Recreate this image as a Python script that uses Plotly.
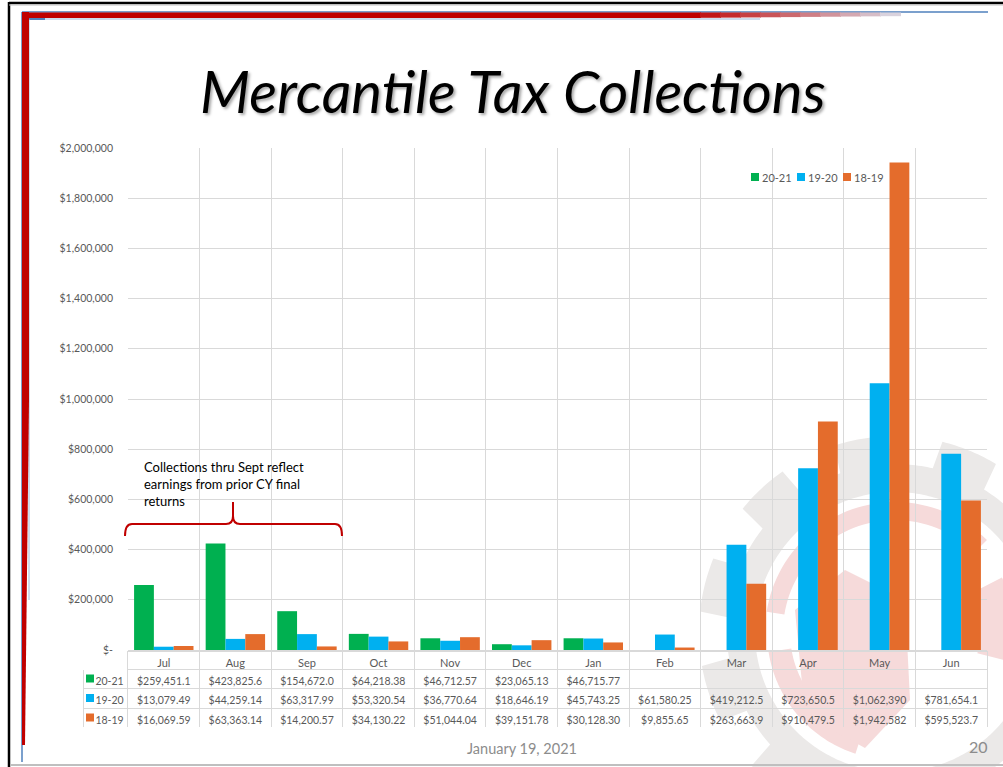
import numpy as np
import plotly.graph_objects as go

# Monthly collections per fiscal year
months = ['Jul', 'Aug', 'Sep', 'Oct', 'Nov', 'Dec', 'Jan', 'Feb', 'Mar', 'Apr', 'May', 'Jun']
fy_2021 = [259451.1, 423825.6, 154672.0, 64218.38, 46712.57, 23065.13, 46715.77,
           None, None, None, None, None]
fy_1920 = [13079.49, 44259.14, 63317.99, 53320.54, 36770.64, 18646.19, 45743.25,
           61580.25, 419212.5, 723650.5, 1062390, 781654.1]
fy_1819 = [16069.59, 63363.14, 14200.57, 34130.22, 51044.04, 39151.78, 30128.30,
           9855.65, 263663.9, 910479.5, 1942582, 595523.7]
series_names = ['20-21', '19-20', '18-19']
series_colors = ['#00B050', '#00B0F0', '#E46C2C']
y_ticks = [0, 200000, 400000, 600000, 800000, 1000000, 1200000, 1400000, 1600000, 1800000, 2000000]

W, H = 1003, 767
GRID = '#d9d9d9'
GREY_TXT = '#595959'
FONT = 'Lato'


def px(x):
    return x / W


def py(y):
    return 1 - y / H


def money(v):
    # Excel squeezes the cells to ~10 characters
    if v is None:
        return ''
    return f'${v:,.2f}'[:10].rstrip('.')


def ppath(pts, close=True):
    s = 'M ' + ' L '.join(f'{px(x):.5f},{py(y):.5f}' for x, y in pts)
    return s + (' Z' if close else '')


fig = go.Figure()

for name, vals, col in zip(series_names, [fy_2021, fy_1920, fy_1819], series_colors):
    fig.add_trace(go.Bar(x=months, y=vals, name=name, showlegend=False,
                         marker=dict(color=col, line=dict(width=0))))

# Data table under the chart
month_cols = [[money(s[i]) for s in (fy_2021, fy_1920, fy_1819)] for i in range(len(months))]
label_col = ['\u00a0\u00a0\u00a0' + n for n in series_names]
fig.add_trace(go.Table(
    domain=dict(x=[px(83), px(987)], y=[py(727), py(651)]),
    columnwidth=[45] + [71.6] * 12,
    header=dict(values=[''] + months, height=18, align='center',
                line=dict(color=['white'] + [GRID] * 12, width=1),
                fill=dict(color='rgba(0,0,0,0)'),
                font=dict(family=FONT, size=11, color=GREY_TXT)),
    cells=dict(values=[label_col] + month_cols, height=19.5, align='center',
               line=dict(color=GRID, width=1), fill=dict(color='rgba(0,0,0,0)'),
               font=dict(family=FONT, size=10.5, color=GREY_TXT)),
))

shapes = []

# Faint gear watermark in the lower right
cx, cy = 895, 632
PINK = '#f6dada'
ang = np.linspace(0, 2 * np.pi, 361)
r_out = np.where(np.cos(ang * 11 + 0.4) > -0.1, 196, 168)
gear = ppath([(cx + r * np.cos(a), cy + r * np.sin(a)) for r, a in zip(r_out, ang)])
hole = ppath([(cx + 140 * np.cos(a), cy + 140 * np.sin(a)) for a in ang[::-1]])
shapes.append(dict(type='path', xref='paper', yref='paper', path=gear + ' ' + hole,
                   fillcolor='#ebe9e8', line=dict(width=0), layer='below'))
for a0, a1, r0, r1 in [(1.05, 1.75, 112, 130), (0.6, 0.95, 105, 128), (-0.15, 0.08, 85, 120)]:
    arc = np.linspace(np.pi * a0, np.pi * a1, 50)
    ring = [(cx + r1 * np.cos(a), cy + r1 * np.sin(a)) for a in arc]
    ring += [(cx + r0 * np.cos(a), cy + r0 * np.sin(a)) for a in arc[::-1]]
    shapes.append(dict(type='path', xref='paper', yref='paper', path=ppath(ring),
                       fillcolor=PINK, line=dict(width=0), layer='below'))
shapes.append(dict(type='path', xref='paper', yref='paper',
                   path=ppath([(795, 610), (845, 570), (905, 600), (910, 700), (865, 748), (805, 715)]),
                   fillcolor=PINK, line=dict(width=0), layer='below'))

# Slide decorations: frame, red/blue accent bars
deco = [
    dict(type='line', x0=9, x1=9, y0=2, y1=767, line=dict(color='black', width=2.5)),
    dict(type='line', x0=9, x1=1003, y0=3, y1=3, line=dict(color='black', width=2.5)),
    dict(type='line', x0=9, x1=1003, y0=5, y1=5, line=dict(color='#bfbfbf', width=1)),
    dict(type='line', x0=11, x1=1003, y0=765, y1=765, line=dict(color='#bfbfbf', width=2)),
    dict(type='line', x0=22, x1=988, y0=12, y1=12, line=dict(color='#4F81BD', width=1.5)),
    dict(type='line', x0=30, x1=760, y0=19, y1=19, line=dict(color='#9DB9DC', width=1)),
    dict(type='line', x0=28, x1=45, y0=19, y1=19, line=dict(color='#4F81BD', width=2)),
    dict(type='line', x0=22, x1=22, y0=12, y1=762, line=dict(color='#4F81BD', width=1.5)),
    dict(type='line', x0=29, x1=29, y0=19, y1=600, line=dict(color='#9DB9DC', width=1)),
]
# red top bar fading out towards the right (blended colours, slightly overlapping)
fade_x = np.arange(700, 901, 20)
deco.append(dict(type='rect', x0=22, x1=701, y0=18, y1=12.5, fillcolor='#C00000', line=dict(width=0)))
for i, (x0, x1) in enumerate(zip(fade_x[:-1], fade_x[1:])):
    t = (i + 1) / len(fade_x)
    r, g, b = [int(c0 + (c1 - c0) * t) for c0, c1 in zip((192, 0, 0), (220, 232, 244))]
    deco.append(dict(type='rect', x0=x0, x1=x1 + 1, y0=18 - 2 * t, y1=12.5,
                     fillcolor=f'rgb({r},{g},{b})', line=dict(width=0)))
for d in deco:
    d.update(xref='paper', yref='paper', x0=px(d['x0']), x1=px(d['x1']), y0=py(d['y0']), y1=py(d['y1']))
    shapes.append(d)
shapes.append(dict(type='path', xref='paper', yref='paper',
                   path=ppath([(22, 12), (29, 12), (29, 400), (25, 745), (22, 745)]),
                   fillcolor='#C00000', line=dict(width=0)))

# Curly bracket over Jul-Sep
brace = (f'M {px(125)},{py(536)} Q {px(125)},{py(524)} {px(132)},{py(524)} '
         f'L {px(226)},{py(524)} Q {px(233)},{py(524)} {px(233)},{py(516)} L {px(233)},{py(502)} '
         f'M {px(233)},{py(516)} Q {px(233)},{py(524)} {px(240)},{py(524)} '
         f'L {px(335)},{py(524)} Q {px(342)},{py(524)} {px(342)},{py(536)}')
shapes.append(dict(type='path', xref='paper', yref='paper', path=brace,
                   line=dict(color='#C00000', width=2)))

annotations = [
    dict(text='<i>Mercantile Tax Collections</i>', x=px(513), y=py(90), xanchor='center',
         font=dict(family=FONT, size=58, color='black', shadow='2px 2px 3px rgba(0,0,0,0.35)')),
    dict(text='Collections thru Sept reflect<br>earnings from prior CY final<br>returns',
         x=px(142), y=py(457), align='left', xanchor='left', yanchor='top',
         font=dict(family=FONT, size=13, color='black')),
    dict(text='January 19, 2021', x=px(522), y=py(748), xanchor='center',
         font=dict(family=FONT, size=14.5, color='#8c8c8c')),
    dict(text='20', x=px(990), y=py(746), xanchor='right',
         font=dict(family=FONT, size=16, color='#8c8c8c')),
]

# Chart legend (top right) and table legend keys
legend_x = [751, 797, 843]
for lx, name, col in zip(legend_x, series_names, series_colors):
    shapes.append(dict(type='rect', xref='paper', yref='paper', x0=px(lx), x1=px(lx + 8),
                       y0=py(181), y1=py(173), fillcolor=col, line=dict(width=0)))
    annotations.append(dict(text=name, x=px(lx + 9), y=py(177), xanchor='left',
                            font=dict(family=FONT, size=11, color=GREY_TXT)))
for ry, col in zip([678.5, 698, 717.5], series_colors):
    shapes.append(dict(type='rect', xref='paper', yref='paper', x0=px(86), x1=px(94),
                       y0=py(ry + 4), y1=py(ry - 4), fillcolor=col, line=dict(width=0)))
for a in annotations:
    a.update(xref='paper', yref='paper', showarrow=False, yanchor=a.get('yanchor', 'middle'))

fig.update_layout(
    width=W, height=H,
    margin=dict(l=0, r=0, t=0, b=0),
    paper_bgcolor='white', plot_bgcolor='rgba(0,0,0,0)',
    barmode='group', bargap=0.17, bargroupgap=0,
    font=dict(family=FONT, color=GREY_TXT),
    showlegend=False,
    xaxis=dict(domain=[px(128), px(987)], type='category', categoryorder='array', categoryarray=months,
               tickson='boundaries', showgrid=True, gridcolor=GRID, showticklabels=False, ticks='',
               showline=True, linecolor=GRID, automargin=False),
    yaxis=dict(domain=[py(650), py(148)], range=[0, 2000000], tickvals=y_ticks,
               ticktext=['$-'] + [f'${v:,}' for v in y_ticks[1:]],
               showgrid=True, gridcolor=GRID, zeroline=False, ticks='', ticklabelstandoff=14,
               automargin=False, tickfont=dict(family=FONT, size=10.5, color=GREY_TXT)),
    shapes=shapes,
    annotations=annotations,
)

fig.write_html('out.html', config={'displayModeBar': False},
               post_script="document.body.style.margin='0';")
